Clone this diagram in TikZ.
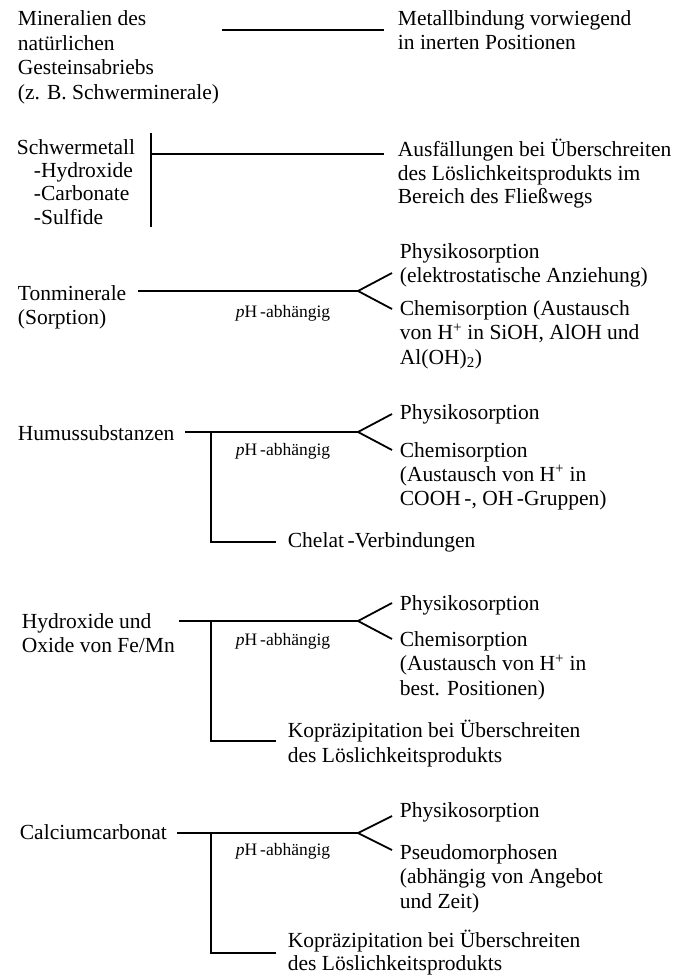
\documentclass[tikz,border=0pt]{standalone}
\usepackage{fontspec}
\setmainfont{Liberation Serif}
\tikzstyle{txt}=[inner sep=0pt, anchor=north west, align=left, font=\fontsize{21.5}{24.5}\selectfont]
\tikzstyle{phtxt}=[inner sep=0pt, anchor=base west, font=\fontsize{17.5}{20}\selectfont]
\tikzstyle{lin}=[line width=1.8pt]

\begin{document}
\begin{tikzpicture}[x=1pt, y=-1pt, lin]
\useasboundingbox (0,0) rectangle (676,976);
% Mineralien
\node[txt] (min) at (17, 10) {Mineralien des\\natürlichen\\Gesteinsabriebs\\(z. B. Schwerminerale)};
\node[txt] (met) at (397, 9.5) {Metallbindung vorwiegend\\in inerten Positionen};
\coordinate (m0) at (222, 30);
\coordinate (m1) at (384, 30);
\draw (m0) -- (m1);
% Schwermetall
\node[txt, font=\fontsize{21.5}{23.3}\selectfont] (sm) at (16, 138.5) {Schwermetall\\\hspace*{17pt}-Hydroxide\\\hspace*{17pt}-Carbonate\\\hspace*{17pt}-Sulfide};
\node[txt, font=\fontsize{21.5}{23.3}\selectfont] (aus) at (397, 138.5) {Ausfällungen bei Überschreiten\\des Löslichkeitsprodukts im\\Bereich des Fließwegs};
\coordinate (s0) at (151, 133);
\coordinate (s1) at (151, 227);
\coordinate (s2) at (384, 154);
\draw (s0) -- (s1);
\draw (s0 |- s2) -- (s2);
% Tonminerale
\node[txt] (ton) at (17, 284.5) {Tonminerale\\(Sorption)};
\node[txt] (tphy) at (399, 242.5) {Physikosorption\\(elektrostatische Anziehung)};
\node[txt] (tche) at (399, 299.5) {Chemisorption (Austausch\\von H\textsuperscript{+} in SiOH, AlOH und\\Al(OH)\textsubscript{2})};
\node[phtxt] (tph) at (235, 317) {\textit{p}H\,-abhängig};
\coordinate (t0) at (138, 291);
\coordinate (tF) at (358, 291);
\coordinate (tA) at (392, 273);
\coordinate (tB) at (392, 309);
\draw (t0) -- (tF);
\draw (tA) -- (tF) -- (tB);
% Humussubstanzen
\node[txt] (hum) at (17, 424.5) {Humussubstanzen};
\node[txt] (hphy) at (399, 403.5) {Physikosorption};
\node[txt, font=\fontsize{21.5}{24}\selectfont] (hche) at (399, 441.5) {Chemisorption\\(Austausch von H\textsuperscript{+} in\\COOH\,-, OH\,-Gruppen)};
\node[phtxt] (hph) at (235, 455) {\textit{p}H\,-abhängig};
\node[txt] (chel) at (287, 531.5) {Chelat\,-Verbindungen};
\coordinate (h0) at (185, 432);
\coordinate (hF) at (358, 432);
\coordinate (hA) at (392, 414);
\coordinate (hB) at (392, 450);
\coordinate (hV) at (211, 432);
\coordinate (hL) at (211, 542);
\draw (h0) -- (hF);
\draw (hA) -- (hF) -- (hB);
\draw (hV) -- (hL) -- ([xshift=-11pt]chel.west |- hL);
% Hydroxide und Oxide
\node[txt] (hyd) at (21, 612.5) {Hydroxide und\\Oxide von Fe/Mn};
\node[txt] (yphy) at (399, 594.5) {Physikosorption};
\node[txt] (yche) at (399, 630.5) {Chemisorption\\(Austausch von H\textsuperscript{+} in\\best. Positionen)};
\node[phtxt] (yph) at (235, 645) {\textit{p}H\,-abhängig};
\node[txt] (ykop) at (287, 719.5) {Kopräzipitation bei Überschreiten\\des Löslichkeitsprodukts};
\coordinate (y0) at (179, 621);
\coordinate (yF) at (358, 621);
\coordinate (yA) at (392, 603);
\coordinate (yB) at (392, 639);
\coordinate (yV) at (211, 621);
\coordinate (yL) at (211, 741);
\draw (y0) -- (yF);
\draw (yA) -- (yF) -- (yB);
\draw (yV) -- (yL) -- ([xshift=-11pt]ykop.west |- yL);
% Calciumcarbonat
\node[txt] (cal) at (19, 823.5) {Calciumcarbonat};
\node[txt] (cphy) at (399, 801.5) {Physikosorption};
\node[txt] (cpse) at (399, 843.5) {Pseudomorphosen\\(abhängig von Angebot\\und Zeit)};
\node[phtxt] (cph) at (235, 855) {\textit{p}H\,-abhängig};
\node[txt, font=\fontsize{21.5}{23.5}\selectfont] (ckop) at (287, 929) {Kopräzipitation bei Überschreiten\\des Löslichkeitsprodukts};
\coordinate (c0) at (177, 833);
\coordinate (cF) at (358, 833);
\coordinate (cA) at (392, 816);
\coordinate (cB) at (392, 850);
\coordinate (cV) at (211, 833);
\coordinate (cL) at (211, 953);
\draw (c0) -- (cF);
\draw (cA) -- (cF) -- (cB);
\draw (cV) -- (cL) -- ([xshift=-11pt]ckop.west |- cL);
\end{tikzpicture}
\end{document}
